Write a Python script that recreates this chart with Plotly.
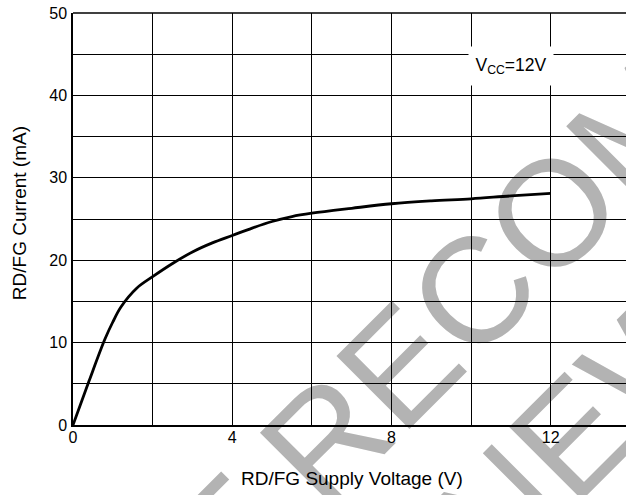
import plotly.graph_objects as go

# Data
voltage_v = [0, 0.4, 0.8, 1.0, 1.2, 1.6, 2.0, 2.5, 3.0, 3.5, 4.0, 4.5, 5.0, 5.5, 6.0, 7.0, 8.0, 9.0, 10.0, 11.0, 12.0]
current_ma = [0, 5.3, 10.4, 12.5, 14.3, 16.6, 18.0, 19.6, 21.0, 22.1, 23.0, 23.9, 24.7, 25.3, 25.7, 26.3, 26.85, 27.2, 27.45, 27.8, 28.1]

x_tickvals = [0, 4, 8, 12]
y_tickvals = [0, 10, 20, 30, 40, 50]

x_title = "RD/FG Supply Voltage (V)"
y_title = "RD/FG Current (mA)"
condition_label = "V<sub>CC</sub>=12V"
watermark_lines = ["NOT RECOMMENDED", "FOR NEW DESIGNS"]

FONT = "Liberation Sans, Arial, Helvetica, sans-serif"
WM_COLOR = "#b3b3b3"

fig = go.Figure()
fig.add_trace(go.Scatter(
    x=voltage_v, y=current_ma, mode="lines",
    line=dict(color="black", width=2.8, shape="spline", smoothing=1.0),
    showlegend=False, hoverinfo="skip", cliponaxis=False,
))

# watermark (drawn below the grid)
wm_centers = [(0.915, 0.628), (1.135, 0.332)]
for txt, (cx, cy) in zip(watermark_lines, wm_centers):
    fig.add_shape(
        type="line", xref="paper", yref="paper",
        x0=cx - 0.01, y0=cy, x1=cx + 0.01, y1=cy,
        line=dict(color="rgba(0,0,0,0)", width=0),
        layer="below",
        label=dict(text=txt, textangle=-45, textposition="middle",
                   xanchor="center", yanchor="middle", padding=0,
                   font=dict(size=150, color=WM_COLOR, family=FONT)),
    )

fig.add_annotation(
    x=11.0, y=43.6, xref="x", yref="y", text=condition_label,
    showarrow=False, bgcolor="white", width=80, height=34, borderpad=2,
    font=dict(size=17.5, color="black", family=FONT),
)
# axis titles
fig.add_annotation(
    x=7.0, xref="x", y=-0.131, yref="paper", text=x_title, showarrow=False,
    xanchor="center", yanchor="middle", font=dict(size=19, color="black", family=FONT),
)
fig.add_annotation(
    x=-0.0967, xref="paper", y=0.513, yref="paper", text=y_title, showarrow=False,
    textangle=-90, xanchor="center", yanchor="middle",
    font=dict(size=19, color="black", family=FONT),
)

fig.update_layout(
    width=626, height=495,
    margin=dict(l=73, r=0, t=13, b=70, pad=0),
    paper_bgcolor="white", plot_bgcolor="white",
    font=dict(family=FONT, size=16, color="black"),
    showlegend=False,
)
fig.update_xaxes(
    range=[0, 13.89], tickvals=x_tickvals, ticks="", ticklabelstandoff=-3,
    showgrid=True, gridcolor="black", gridwidth=1,
    minor=dict(dtick=2, tick0=0, showgrid=True, gridcolor="black", gridwidth=1),
    showline=True, linecolor="black", linewidth=1.5, mirror=False,
    zeroline=False, tickfont=dict(size=16),
)
fig.update_yaxes(
    range=[0, 50], tickvals=y_tickvals, ticks="", ticklabelstandoff=1,
    showgrid=True, gridcolor="black", gridwidth=1,
    minor=dict(dtick=5, tick0=0, showgrid=True, gridcolor="black", gridwidth=1),
    showline=True, linecolor="black", linewidth=1.5, mirror=False,
    zeroline=False, tickfont=dict(size=16),
)
# top border
fig.add_shape(type="line", xref="paper", yref="paper", x0=0, x1=1, y0=1, y1=1,
              line=dict(color="black", width=1.5), layer="above")

fig.write_html("out.html")
